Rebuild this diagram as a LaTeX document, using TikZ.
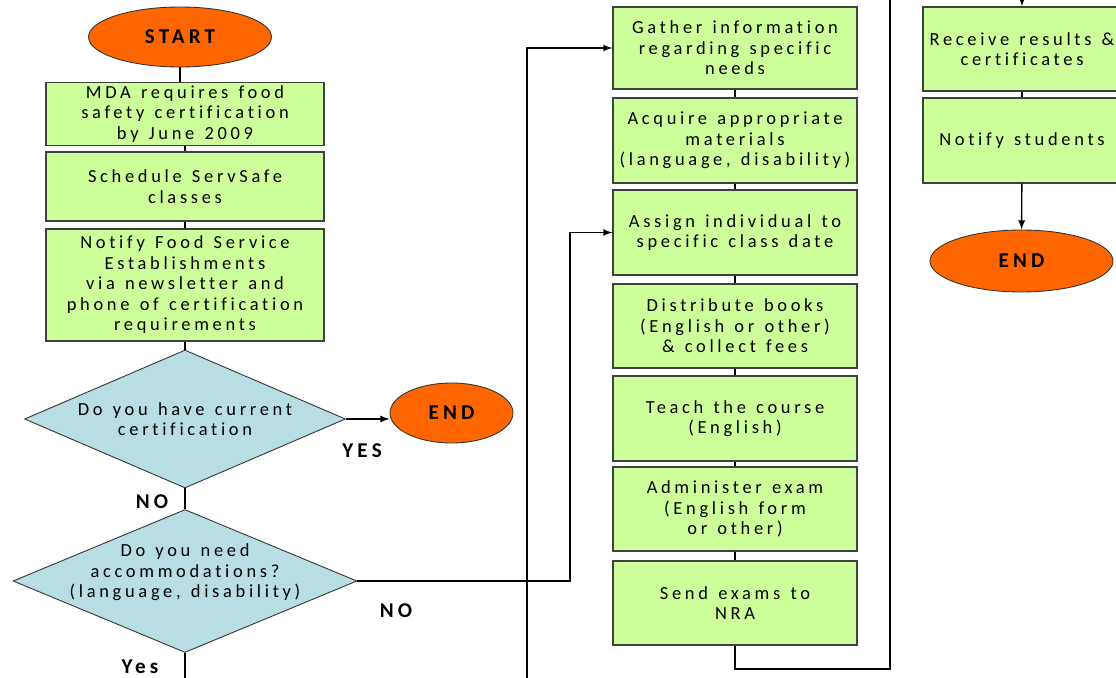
\documentclass[tikz,border=0pt]{standalone}
\usepackage{fontspec}
\setmainfont{Carlito}[LetterSpace=20, WordSpace=1.3, Ligatures=CommonOff]
\usepackage{xcolor}
\usetikzlibrary{positioning, arrows.meta, shapes.geometric}

\definecolor{boxgreen}{HTML}{CCFF99}
\definecolor{termorange}{HTML}{FF6600}
\definecolor{askblue}{HTML}{B7DEE2}

\tikzset{
    stepbox/.style={rectangle, draw=black!75, fill=boxgreen, line width=0.7pt,
        minimum width=4.88cm, minimum height=1.7cm, inner sep=2pt, align=center,
        font=\fontsize{10.5}{11.65}\selectfont},
    term/.style={ellipse, draw=black!80, fill=termorange, line width=0.5pt,
        inner sep=0pt, font=\bfseries\fontsize{12}{14}\selectfont},
    ask/.style={diamond, draw=black!80, fill=askblue, line width=0.5pt,
        inner xsep=-0.6cm, inner ysep=-0.3cm, align=center,
        font=\fontsize{10.5}{11.65}\selectfont},
    tag/.style={font=\bfseries\fontsize{12}{14}\selectfont},
    link/.style={line width=0.8pt}
}

\begin{document}
\begin{tikzpicture}[>=latex, x=0.02cm, y=-0.02cm]
    \useasboundingbox (0,0) rectangle (1116,678);
    \clip (0,0) rectangle (1116,678);

    % left column
    \node[term, minimum width=3.66cm, minimum height=1.2cm] (start) at (180,37) {START};
    \node[stepbox, minimum width=5.56cm, minimum height=1.24cm] (mda) at (185,114)
        {MDA requires food\\safety certification\\by June 2009};
    \node[stepbox, minimum width=5.56cm, minimum height=1.38cm] (sched) at (185,186.5)
        {Schedule ServSafe\\classes};
    \node[stepbox, minimum width=5.56cm, minimum height=2.24cm] (notify) at (185,285)
        {Notify Food Service\\Establishments\\via newsletter and\\phone of certification\\requirements};
    \node[ask, aspect=2.33, minimum width=6.42cm, minimum height=2.76cm] (qcert) at (185,419)
        {Do you have current\\certification};
    \node[ask, aspect=2.4, minimum width=6.88cm, minimum height=2.86cm] (qaccom) at (185,581)
        {Do you need\\accommodations?\\(language, disability)\\ \mbox{}};
    \node[term, minimum width=2.46cm, minimum height=1.2cm] (endA) at (451.5,413) {END};

    \node[tag] (yesA) at (362,451) {YES};
    \node[tag] (noA) at (152,502) {NO};
    \node[tag] (noB) at (396,611) {NO};
    \node[tag] (yesB) at (140,667) {Yes};

    % middle column
    \node[stepbox, minimum height=1.64cm] (gather) at (735,48)
        {Gather information\\regarding specific\\needs};
    \node[stepbox] (acquire) at (735,140.5)
        {Acquire appropriate\\materials\\(language, disability)};
    \node[stepbox] (assign) at (735,232.5)
        {Assign individual to\\specific class date};
    \node[stepbox, minimum height=1.68cm] (distrib) at (735,326)
        {Distribute books\\(English or other)\\\& collect fees};
    \node[stepbox] (teach) at (735,418.5)
        {Teach the course\\(English)};
    \node[stepbox, minimum height=1.68cm] (exam) at (735,509)
        {Administer exam\\(English form\\or other)};
    \node[stepbox, minimum height=1.68cm] (sendnra) at (735,603)
        {Send exams to\\NRA};

    % right column
    \node[stepbox, minimum width=3.96cm, minimum height=1.68cm] (receive) at (1022,49)
        {Receive results \&\\certificates};
    \node[stepbox, minimum width=3.96cm] (notifystu) at (1022,140.5)
        {Notify students};
    \node[term, minimum width=3.66cm, minimum height=1.24cm] (endB) at (1021.5,261) {END};

    % connectors
    \foreach \a/\b in {start/mda, mda/sched, sched/notify, notify/qcert, qcert/qaccom}
        \draw[link] (\a.south) -- (\a.south |- \b.north);
    \foreach \a/\b in {gather/acquire, acquire/assign, assign/distrib, distrib/teach, teach/exam, exam/sendnra, receive/notifystu}
        \draw[link] (\a) -- (\b);

    \draw[link, ->] (qcert.east) -- (qcert.east -| endA.west);
    \draw[link, ->] (qaccom.east) -- (570,581) |- (assign.west);
    \draw[link, ->] (qaccom.south) |- (527,700) |- (gather.west);
    \draw[link, ->] (sendnra.south) |- (890,669) -- (890,-20) -| (receive.north);
    \draw[link, ->] (notifystu) -- (endB);
\end{tikzpicture}
\end{document}
